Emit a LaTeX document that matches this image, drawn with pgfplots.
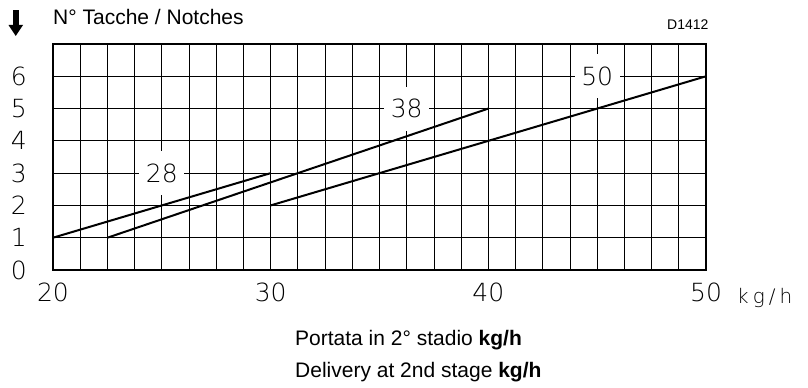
\documentclass[border=0pt]{standalone}
\usepackage{fontspec}
\setmainfont{Liberation Sans}
\newfontfamily\thin{DejaVu Sans ExtraLight}
\usepackage{pgfplots}
\pgfplotsset{compat=1.18}
\begin{document}
\begin{tikzpicture}[x=1bp,y=1bp]
\useasboundingbox (0,0) rectangle (808,387);
\begin{axis}[at={(53bp,117bp)}, anchor=south west, scale only axis,
  width=653bp, height=226bp,
  xmin=20, xmax=50, ymin=0, ymax=7,
  xtick={20,30,40,50},
  minor xtick={20,21.25,...,50},
  ytick={0,1,2,3,4,5,6},
  grid=both,
  major grid style={black, line width=0.8bp},
  minor grid style={black, line width=0.8bp},
  major tick length=0pt, minor tick length=0pt,
  axis line style={line width=2bp},
  /pgf/number format/assume math mode=true,
  ticklabel style={font=\thin\fontsize{25bp}{25bp}\selectfont},
  xticklabel style={anchor=north, inner sep=0pt, yshift=-13bp},
  yticklabel style={anchor=east, inner sep=0pt, xshift=-26bp},
]
\node[fill=white, inner sep=0pt, minimum width=45bp, minimum height=44bp, font=\thin\fontsize{25bp}{25bp}\selectfont] at (axis cs:25,3) {28};
\node[fill=white, inner sep=0pt, minimum width=45bp, minimum height=44bp, font=\thin\fontsize{25bp}{25bp}\selectfont] at (axis cs:36.25,5) {38};
\node[fill=white, inner sep=0pt, minimum width=45bp, minimum height=44bp, font=\thin\fontsize{25bp}{25bp}\selectfont] at (axis cs:45,6) {50};
\addplot[black, line width=2bp] coordinates {(20,1) (30,3)};
\addplot[black, line width=2bp] coordinates {(22.5,1) (40,5)};
\addplot[black, line width=2bp] coordinates {(30,2) (50,6)};
\end{axis}
% arrow
\fill (13,377) rectangle (18.5,362);
\fill (8.5,362) -- (23,362) -- (15.75,351) -- cycle;
% title
\node[anchor=base west, inner sep=0pt, font=\fontsize{21bp}{21bp}\selectfont] at (53,363) {N° Tacche / Notches};
\node[anchor=base west, inner sep=0pt, font=\fontsize{14bp}{14bp}\selectfont] at (667,358) {D1412};
\node[anchor=base west, inner sep=0pt, font=\thin\fontsize{20bp}{20bp}\selectfont] at (737,84) {k\hspace{4bp}g\hspace{4bp}/\hspace{4bp}h};
\node[anchor=base west, inner sep=0pt, font=\fontsize{21bp}{21bp}\selectfont] at (295,42) {Portata in 2° stadio \textbf{kg/h}};
\node[anchor=base west, inner sep=0pt, font=\fontsize{21bp}{21bp}\selectfont] at (295,10) {Delivery at 2nd stage \textbf{kg/h}};
\end{tikzpicture}
\end{document}
